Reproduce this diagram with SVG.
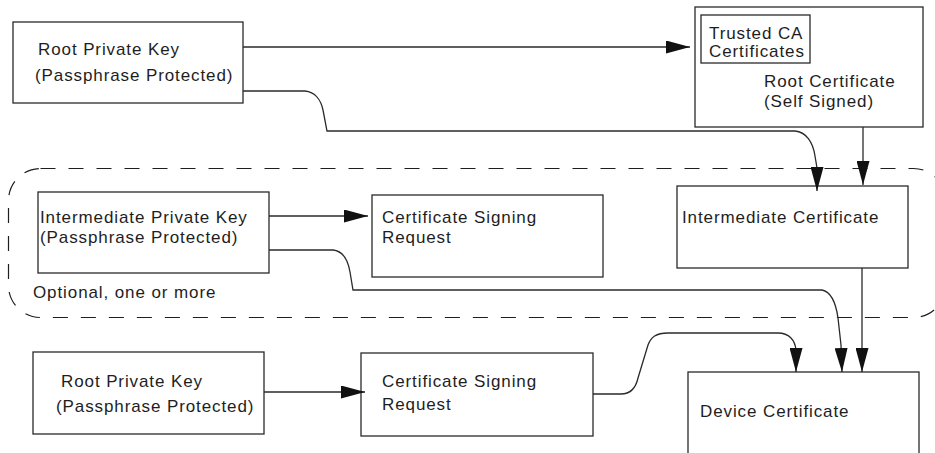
<svg xmlns="http://www.w3.org/2000/svg" width="935" height="453" viewBox="0 0 935 453">
  <style>
    .box { fill: #ffffff; stroke: #2a2a2a; stroke-width: 1.3; }
    .lbl { font-family: "Liberation Sans", Arial, sans-serif; font-size: 17px; letter-spacing: 0.9px; fill: #1e1e1e; }
    .wire { fill: none; stroke: #2a2a2a; stroke-width: 1.3; marker-end: url(#ah); }
    .group { fill: none; stroke: #1e1e1e; stroke-width: 1.2; stroke-dasharray: 15 13; }
  </style>
  <defs>
    <marker id="ah" markerUnits="userSpaceOnUse" markerWidth="24" markerHeight="13" refX="24" refY="6.5" orient="auto">
      <path d="M0,0 L24,6.5 L0,13 Z" fill="#111111"/>
    </marker>
  </defs>
  <rect width="935" height="453" fill="#ffffff"/>

  <!-- optional intermediate tier -->
  <rect class="group" x="8.5" y="168.5" width="937" height="149" rx="32" ry="32"/>
  <text class="lbl" x="33" y="298">Optional, one or more</text>

  <g id="root-key">
    <rect class="box" x="13" y="22" width="230" height="81"/>
    <text class="lbl" x="38" y="55">Root Private Key</text>
    <text class="lbl" x="35" y="81">(Passphrase Protected)</text>
  </g>

  <g id="root-cert">
    <rect class="box" x="695" y="7" width="228" height="120"/>
    <rect class="box" x="701" y="15" width="109" height="48"/>
    <text class="lbl" x="709" y="39">Trusted CA</text>
    <text class="lbl" x="709" y="57">Certificates</text>
    <text class="lbl" x="764" y="87">Root Certificate</text>
    <text class="lbl" x="764" y="107">(Self Signed)</text>
  </g>

  <g id="intermediate-key">
    <rect class="box" x="38" y="192" width="231" height="81"/>
    <text class="lbl" x="40" y="223">Intermediate Private Key</text>
    <text class="lbl" x="40" y="243">(Passphrase Protected)</text>
  </g>

  <g id="intermediate-csr">
    <rect class="box" x="372" y="195" width="231" height="82"/>
    <text class="lbl" x="382" y="223">Certificate Signing</text>
    <text class="lbl" x="382" y="243">Request</text>
  </g>

  <g id="intermediate-cert">
    <rect class="box" x="677" y="186" width="231" height="82"/>
    <text class="lbl" x="682" y="223">Intermediate Certificate</text>
  </g>

  <g id="device-key">
    <rect class="box" x="33" y="352" width="231" height="82"/>
    <text class="lbl" x="61" y="387">Root Private Key</text>
    <text class="lbl" x="56" y="412">(Passphrase Protected)</text>
  </g>

  <g id="device-csr">
    <rect class="box" x="361" y="353" width="232" height="83"/>
    <text class="lbl" x="382" y="387">Certificate Signing</text>
    <text class="lbl" x="382" y="410">Request</text>
  </g>

  <g id="device-cert">
    <rect class="box" x="688" y="372" width="231" height="100"/>
    <text class="lbl" x="700" y="417">Device Certificate</text>
  </g>

  <g id="connectors">
    <path class="wire" d="M243,47 H690"/>
    <path class="wire" d="M243,91 H305 C315,92 321,100 323,110 L327,131 H795 C806,132 813,142 815,156 L817,168 L817,191"/>
    <path class="wire" d="M863,127 V185"/>
    <path class="wire" d="M269,216 H368"/>
    <path class="wire" d="M269,250 H333 C343,251 348,260 350,272 L353,290 H822 C832,292 836,304 838,318 L841,345 L842,372"/>
    <path class="wire" d="M862,268 V372"/>
    <path class="wire" d="M264,392 H365"/>
    <path class="wire" d="M593,394 H621 C632,394 636,387 638,378 L648,345 C651,337 656,333 668,333 H778 C789,333 795,340 796,350 V372"/>
  </g>
</svg>
